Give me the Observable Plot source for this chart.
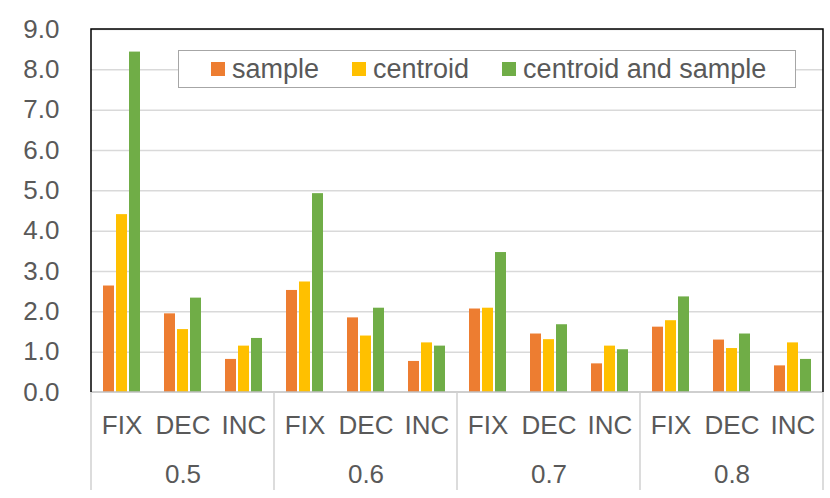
<!DOCTYPE html>
<html>
<head>
<meta charset="utf-8">
<script src="https://cdn.jsdelivr.net/npm/d3@7"></script>
<script src="https://cdn.jsdelivr.net/npm/@observablehq/plot@0.6"></script>
<style>
  html, body { margin: 0; padding: 0; background: #fff; }
  #wrap { position: relative; width: 830px; height: 498px; font-family: "Liberation Sans", Arial, sans-serif; }
  #legend {
    position: absolute; left: 178px; top: 50px; width: 618px; height: 38px;
    box-sizing: border-box; border: 1.5px solid #a6a6a6; background: #fff;
    display: flex; align-items: center; padding-left: 32px;
    font-size: 27px; color: #595959; white-space: nowrap;
  }
  .item { display: flex; align-items: center; margin-right: 33px; }
  .sw { width: 14px; height: 14px; margin-right: 7px; }
</style>
</head>
<body>
<div id="wrap"></div>
<script>
const thresholds = ["0.5", "0.6", "0.7", "0.8"];
const methods = ["FIX", "DEC", "INC"];
const series = ["sample", "centroid", "centroid and sample"];
const colors = ["#ED7D31", "#FFC000", "#70AD47"];
// values ordered threshold-major, then FIX, DEC, INC
const sampleVals   = [2.64, 1.95, 0.82, 2.53, 1.85, 0.77, 2.07, 1.45, 0.71, 1.62, 1.30, 0.66];
const centroidVals = [4.41, 1.56, 1.15, 2.74, 1.40, 1.23, 2.09, 1.31, 1.15, 1.78, 1.09, 1.23];
const bothVals     = [8.44, 2.34, 1.34, 4.93, 2.09, 1.15, 3.47, 1.68, 1.06, 2.37, 1.45, 0.82];
const yTicks = [0, 1, 2, 3, 4, 5, 6, 7, 8, 9];

const cats = [];
thresholds.forEach(t => methods.forEach(m => cats.push({key: t + "|" + m, threshold: t, method: m})));
const keys = cats.map(c => c.key);
const seriesVals = [sampleVals, centroidVals, bothVals];
const rows = [];
cats.forEach((c, i) => series.forEach((s, j) => rows.push({...c, series: s, value: seriesVals[j][i]})));
const groupRows = thresholds.map(t => ({key: t + "|DEC", threshold: t}));

const plot = Plot.plot({
  width: 830, height: 498,
  marginLeft: 90, marginRight: 7, marginTop: 29, marginBottom: 106,
  style: {fontFamily: "'Liberation Sans', Arial, sans-serif", fontSize: "26px", color: "#595959", background: "white", overflow: "visible"},
  fx: {domain: keys, padding: 0, axis: null},
  x: {domain: series, paddingInner: 0.154, paddingOuter: 0.92, axis: null},
  y: {domain: [0, 9], ticks: yTicks, tickFormat: d3.format(".1f"), tickSize: 0, tickPadding: 32, label: null},
  color: {domain: series, range: colors},
  marks: [
    Plot.ruleY(yTicks.slice(1), {y: d => d, stroke: "#d9d9d9", strokeWidth: 1.5}),
    Plot.barY(rows, {fx: "key", x: "series", y: "value", fill: "series"}),
    Plot.text(cats, {fx: "key", text: "method", frameAnchor: "bottom", lineAnchor: "middle", dy: 33, fill: "#595959", fontSize: 26}),
    Plot.text(groupRows, {fx: "key", text: "threshold", frameAnchor: "bottom", lineAnchor: "middle", dy: 82, fill: "#595959", fontSize: 26})
  ]
});

document.getElementById("wrap").appendChild(plot);

// frame, baseline and group separators from the plot's own scales
const fxS = plot.scale("fx"), yS = plot.scale("y");
const left = fxS.apply(keys[0]);
const right = fxS.apply(keys[keys.length - 1]) + fxS.bandwidth;
const y0 = yS.apply(0), y9 = yS.apply(9);
const svg = d3.select(plot);
const g = svg.append("g");
g.append("line").attr("x1", left).attr("x2", right).attr("y1", y0).attr("y2", y0)
  .attr("stroke", "#bfbfbf").attr("stroke-width", 1.5);
const seps = thresholds.map(t => fxS.apply(t + "|FIX")).concat([right]);
seps.forEach(x => g.append("line").attr("x1", x).attr("x2", x).attr("y1", y0).attr("y2", y0 + 98)
  .attr("stroke", "#d0d0d0").attr("stroke-width", 1.5));
g.append("path").attr("d", `M${left},${y0}V${y9}H${right}V${y0}`)
  .attr("fill", "none").attr("stroke", "#000").attr("stroke-width", 1.5);

// legend
const legend = document.createElement("div");
legend.id = "legend";
series.forEach((s, i) => {
  const it = document.createElement("div");
  it.className = "item";
  const sw = document.createElement("span");
  sw.className = "sw";
  sw.style.background = colors[i];
  const tx = document.createElement("span");
  tx.textContent = s;
  it.appendChild(sw); it.appendChild(tx);
  legend.appendChild(it);
});
document.getElementById("wrap").appendChild(legend);
</script>
</body>
</html>
